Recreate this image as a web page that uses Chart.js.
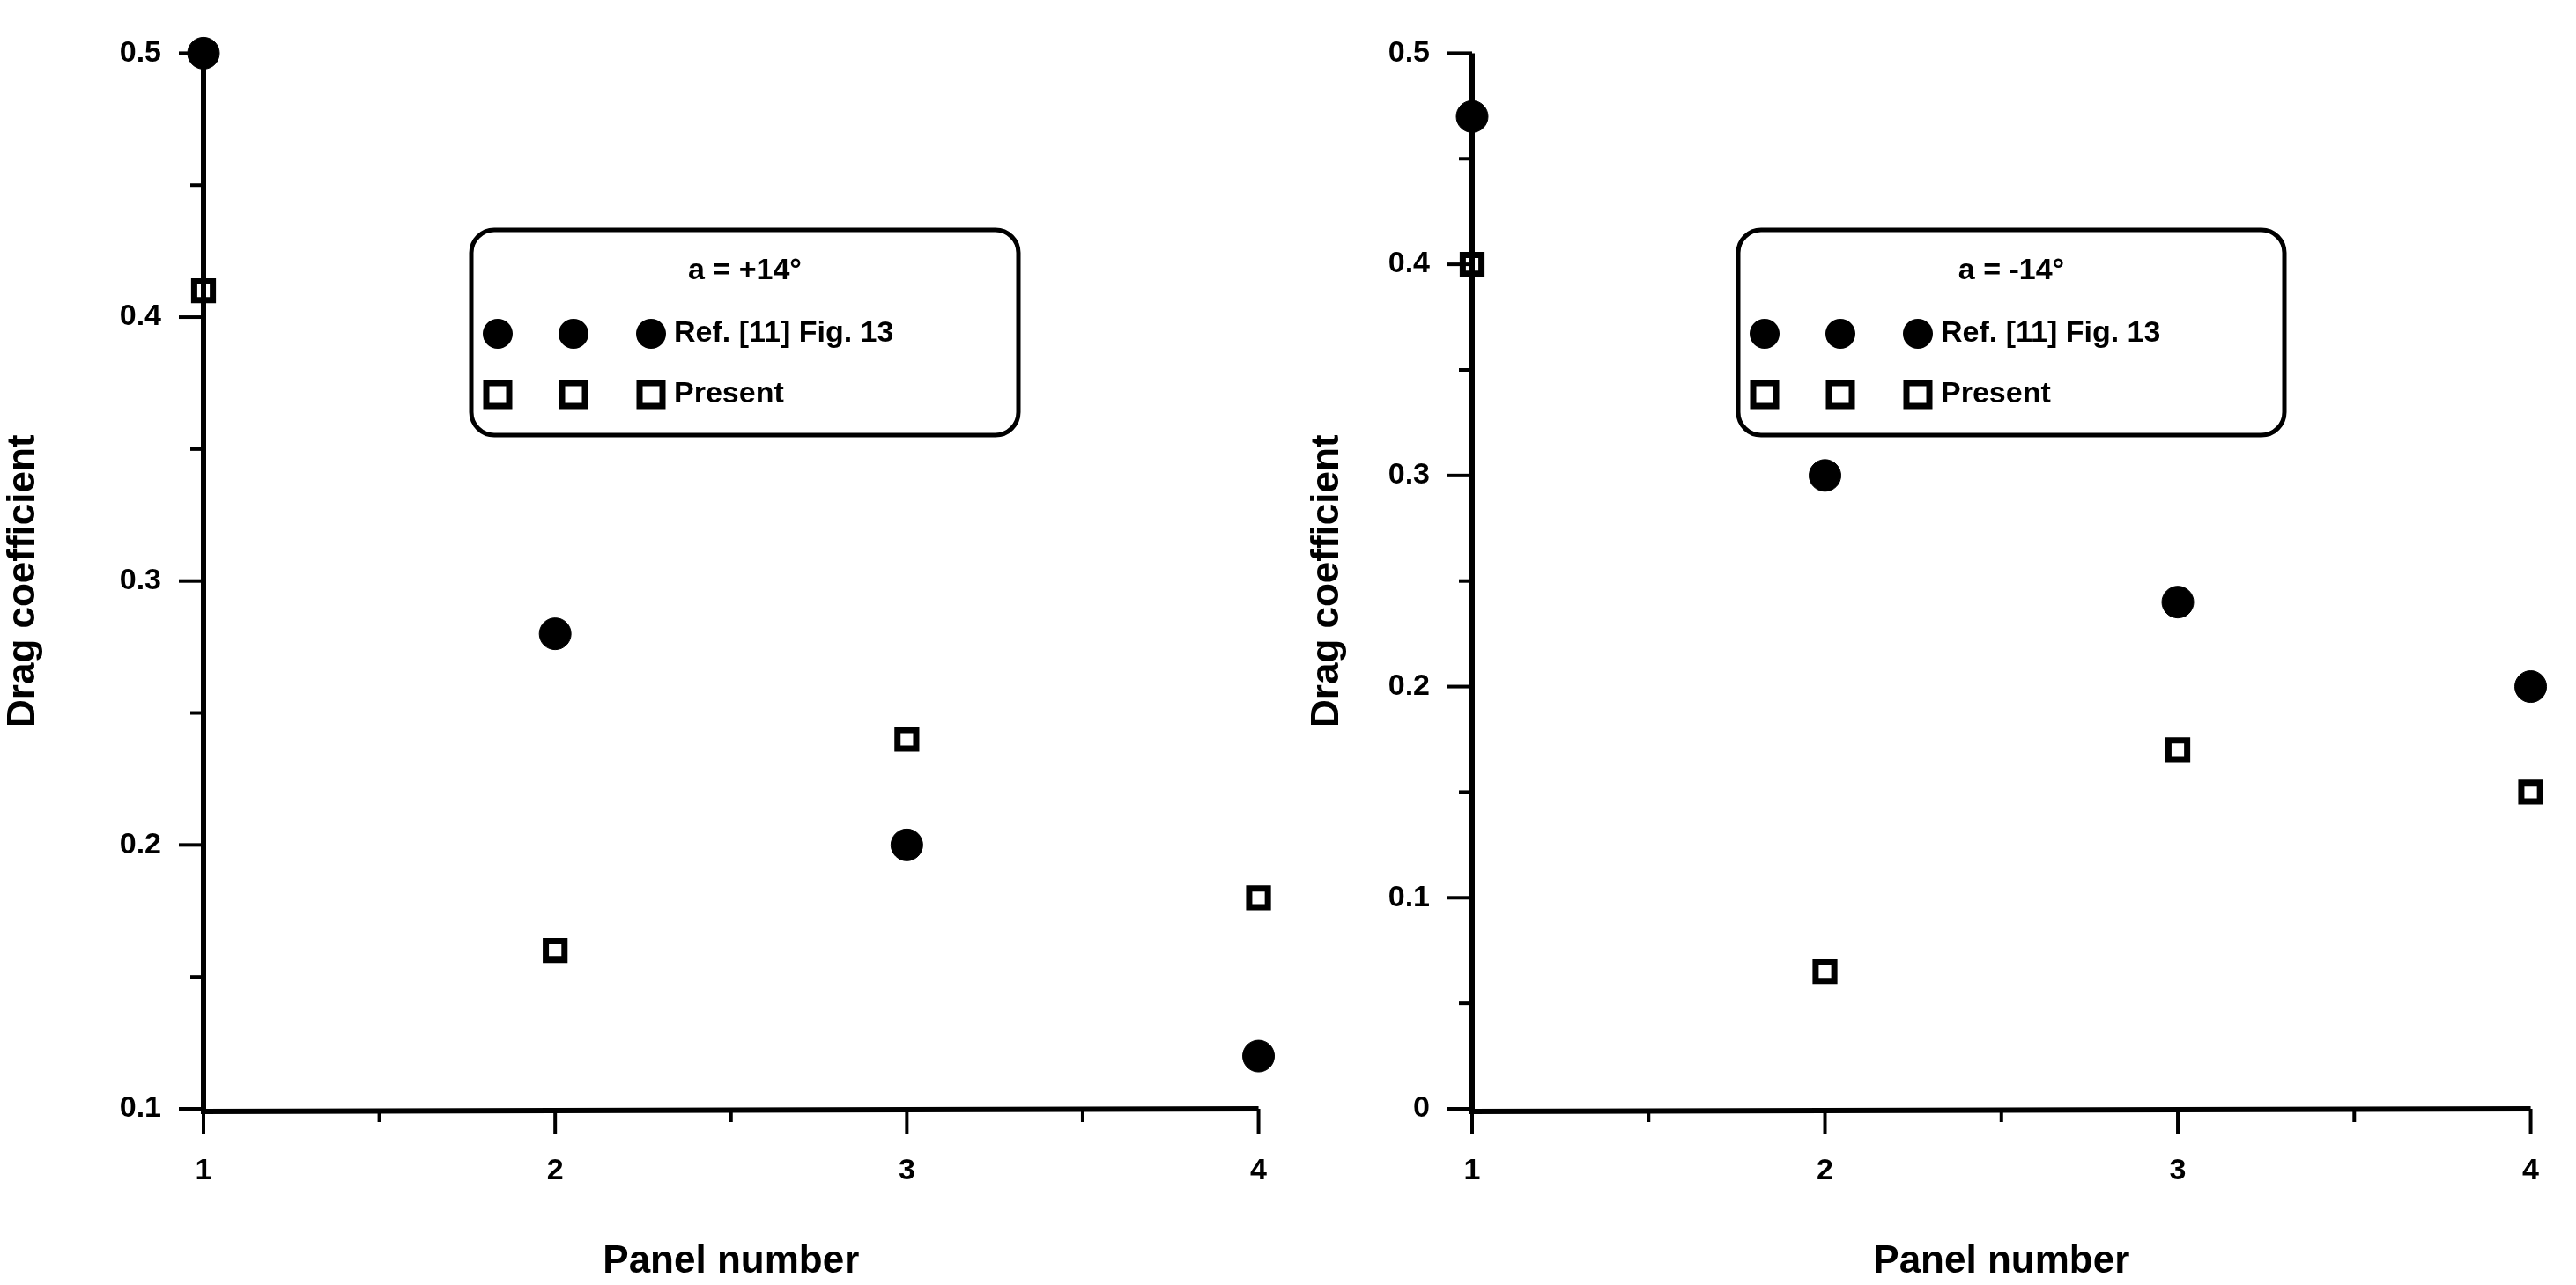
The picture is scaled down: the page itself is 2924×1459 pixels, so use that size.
<!DOCTYPE html>
<html><head><meta charset="utf-8">
<script src="https://cdn.jsdelivr.net/npm/chart.js@4"></script>
<style>html,body{margin:0;padding:0;background:#fff;width:2924px;height:1459px;overflow:hidden}
.c{position:absolute;top:0;height:1459px}</style></head>
<body>
<div class="c" style="left:0;width:1480px"><canvas id="c1"></canvas></div>
<div class="c" style="left:1480px;width:1444px"><canvas id="c2"></canvas></div>
<script>
const panels = [1, 2, 3, 4];
const refPlus = [0.5, 0.28, 0.2, 0.12];
const presentPlus = [0.41, 0.16, 0.24, 0.18];
const refMinus = [0.47, 0.3, 0.24, 0.2];
const presentMinus = [0.4, 0.065, 0.17, 0.15];
const titlePlus = 'a = +14°';
const titleMinus = 'a = -14°';
const refLabel = 'Ref. [11] Fig. 13';
const presentLabel = 'Present';
const FONT = '"Liberation Sans", Arial, sans-serif';

function pts(v){return panels.map((x,i)=>({x:x,y:v[i]}));}

const axesPlugin = {
  id:'axes',
  afterDatasetsDraw(chart, args, o){
    const ctx = chart.ctx, a = chart.chartArea, xs = chart.scales.x, ys = chart.scales.y;
    ctx.save();
    ctx.strokeStyle='#000'; ctx.lineWidth=6; ctx.lineCap='butt';
    ctx.beginPath(); ctx.moveTo(a.left,a.top); ctx.lineTo(a.left,a.bottom+3); ctx.lineTo(a.right,a.bottom); ctx.stroke();
    ctx.lineWidth=4;
    for(let v=1; v<=4.001; v+=0.5){
      const p=xs.getPixelForValue(v), major=Math.abs(v-Math.round(v))<1e-6;
      ctx.beginPath(); ctx.moveTo(p,a.bottom); ctx.lineTo(p,a.bottom+(major?28:15)); ctx.stroke();
    }
    for(let v=ys.min; v<=ys.max+1e-6; v+=0.05){
      const p=ys.getPixelForValue(v), major=Math.abs(v*10-Math.round(v*10))<1e-6;
      ctx.beginPath(); ctx.moveTo(a.left,p); ctx.lineTo(a.left-(major?28:15),p); ctx.stroke();
    }
    // legend
    const L=o.box;
    const x0=L[0], y0=L[1], w=L[2], h=L[3], r=26;
    ctx.lineWidth=5; ctx.fillStyle='#fff';
    ctx.beginPath(); ctx.roundRect(x0,y0,w,h,r); ctx.fill(); ctx.stroke();
    ctx.fillStyle='#000'; ctx.textBaseline='middle';
    ctx.font='bold 34px '+FONT; ctx.textAlign='center';
    ctx.fillText(o.title, x0+w/2, y0+47);
    const mx=[x0+30, x0+116, x0+204];
    mx.forEach(m=>{
      ctx.beginPath(); ctx.arc(m, y0+118, 17, 0, Math.PI*2); ctx.fill();
      ctx.lineWidth=7; ctx.strokeRect(m-13, y0+187-13, 26, 26);
    });
    ctx.textAlign='left';
    ctx.fillText(refLabel, x0+230, y0+118);
    ctx.fillText(presentLabel, x0+230, y0+187);
    ctx.restore();
  }
};

function make(id, ref, pres, ymin, axisW, padR, title, box){
  return new Chart(document.getElementById(id), {
    type:'scatter',
    data:{datasets:[
      {label:refLabel, data:pts(ref), pointStyle:'circle', pointRadius:18, backgroundColor:'#000', borderColor:'#000', clip:false},
      {label:presentLabel, data:pts(pres), pointStyle:'rect', pointRadius:15, backgroundColor:'#fff', borderColor:'#000', borderWidth:7, clip:false}
    ]},
    options:{
      responsive:true, maintainAspectRatio:false, animation:false,
      layout:{padding:{top:56,right:padR,left:0,bottom:0}},
      plugins:{legend:{display:false}, tooltip:{enabled:false}, axes:{title:title, box:box}},
      scales:{
        x:{type:'linear', min:1, max:4, grid:{display:false}, border:{display:false},
           afterFit:s=>{s.height=200;},
           ticks:{stepSize:1, padding:42, color:'#000', font:{family:FONT, weight:'bold', size:34}},
           title:{display:true, text:'Panel number', color:'#000', padding:{top:4,bottom:0}, font:{family:FONT, weight:'bold', size:44}}},
        y:{type:'linear', min:ymin, max:0.5, grid:{display:false}, border:{display:false},
           afterFit:s=>{s.width=axisW;},
           ticks:{stepSize:0.1, padding:40, color:'#000', font:{family:FONT, weight:'bold', size:34}, callback:v=>Math.round(v*10)/10},
           title:{display:true, text:'Drag coefficient', color:'#000', padding:{top:0,bottom:0}, font:{family:FONT, weight:'bold', size:44}}}
      }
    },
    plugins:[axesPlugin]
  });
}
make('c1', refPlus, presentPlus, 0.1, 231, 46, titlePlus, [535,261,621,233]);
make('c2', refMinus, presentMinus, 0, 191, 48, titleMinus, [493,261,620,233]);
</script>
</body></html>
